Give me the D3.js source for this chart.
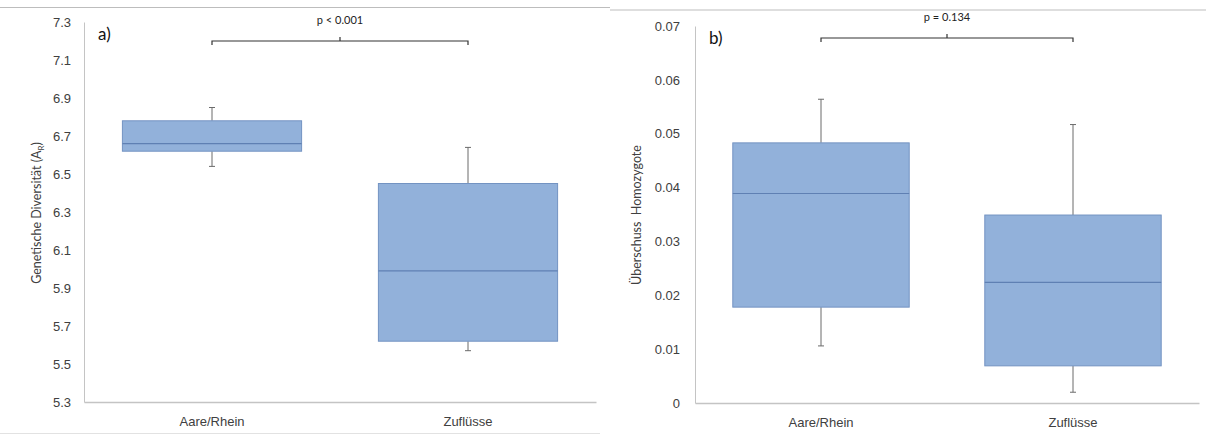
<!DOCTYPE html>
<html>
<head>
<meta charset="utf-8">
<script src="https://cdn.jsdelivr.net/npm/d3@7"></script>
<style>
  body { margin: 0; background: #fff; }
  svg { display: block; font-family: Lato, "Liberation Sans", sans-serif; }
</style>
</head>
<body>
<div id="chart"></div>
<script>
// categories
const groups = ["Aare/Rhein", "Zuflüsse"];

// panel a: Genetische Diversität (A_R)
const divMin    = [6.54, 5.57];
const divQ1     = [6.62, 5.62];
const divMedian = [6.66, 5.99];
const divQ3     = [6.78, 6.45];
const divMax    = [6.85, 6.64];
const divTicks  = [5.3, 5.5, 5.7, 5.9, 6.1, 6.3, 6.5, 6.7, 6.9, 7.1, 7.3];

// panel b: Überschuss Homozygote
const homMin    = [0.0106, 0.0020];
const homQ1     = [0.0178, 0.0069];
const homMedian = [0.0389, 0.0224];
const homQ3     = [0.0483, 0.0349];
const homMax    = [0.0564, 0.0517];
const homTicks  = [0, 0.01, 0.02, 0.03, 0.04, 0.05, 0.06, 0.07];

const width = 1206, height = 439;
const boxFill = "#92b1da", boxStroke = "#7393c2", medianColor = "#5f80b3";
const axisColor = "#c4c4c4", textColor = "#404040";

const svg = d3.select("#chart").append("svg")
    .attr("width", width)
    .attr("height", height);

// chart area frames
svg.append("line").attr("x1", 0).attr("x2", 610).attr("y1", 7.5).attr("y2", 7.5)
    .attr("stroke", "#bdbdbd");
svg.append("line").attr("x1", 610).attr("x2", width).attr("y1", 10).attr("y2", 10)
    .attr("stroke", "#bdbdbd");
svg.append("line").attr("x1", 0).attr("x2", 600).attr("y1", 433.5).attr("y2", 433.5)
    .attr("stroke", "#e2e2e2");

function panel(opt) {
    const x = d3.scaleBand().domain(groups)
        .range([opt.left, opt.right])
        .paddingInner(0.3).paddingOuter(0.15);
    const y = d3.scaleLinear().domain(opt.domain).range([opt.bottom, opt.top]);

    const g = svg.append("g");

    // y axis
    const yAxis = g.append("g")
        .attr("transform", `translate(${opt.left},0)`)
        .call(d3.axisLeft(y).tickValues(opt.ticks).tickSize(0).tickPadding(opt.tickPad).tickFormat(opt.fmt));
    yAxis.select(".domain").attr("stroke", axisColor);
    yAxis.selectAll("text").attr("fill", textColor).style("font-size", "13px");

    // x axis
    const xAxis = g.append("g")
        .attr("transform", `translate(0,${opt.bottom})`)
        .call(d3.axisBottom(x).tickSize(0).tickPadding(15));
    xAxis.select(".domain").attr("stroke", axisColor).attr("stroke-width", 1.5);
    xAxis.selectAll("text").attr("fill", textColor).style("font-size", "13px");

    const data = groups.map((k, i) => ({
        key: k, min: opt.min[i], q1: opt.q1[i], med: opt.med[i], q3: opt.q3[i], max: opt.max[i]
    }));

    const box = g.selectAll(".box").data(data).join("g").attr("class", "box");
    const cx = d => x(d.key) + x.bandwidth() / 2;

    // whiskers
    box.append("line")
        .attr("x1", cx).attr("x2", cx)
        .attr("y1", d => y(d.max)).attr("y2", d => y(d.q3))
        .attr("stroke", "#6b6b6b");
    box.append("line")
        .attr("x1", cx).attr("x2", cx)
        .attr("y1", d => y(d.q1)).attr("y2", d => y(d.min))
        .attr("stroke", "#6b6b6b");
    box.append("line")
        .attr("x1", d => cx(d) - 3).attr("x2", d => cx(d) + 3)
        .attr("y1", d => y(d.max)).attr("y2", d => y(d.max))
        .attr("stroke", "#6b6b6b");
    box.append("line")
        .attr("x1", d => cx(d) - 3).attr("x2", d => cx(d) + 3)
        .attr("y1", d => y(d.min)).attr("y2", d => y(d.min))
        .attr("stroke", "#6b6b6b");

    box.append("rect")
        .attr("x", d => x(d.key))
        .attr("width", x.bandwidth())
        .attr("y", d => y(d.q3))
        .attr("height", d => y(d.q1) - y(d.q3))
        .attr("fill", boxFill)
        .attr("stroke", boxStroke);

    box.append("line")
        .attr("x1", d => x(d.key)).attr("x2", d => x(d.key) + x.bandwidth())
        .attr("y1", d => y(d.med)).attr("y2", d => y(d.med))
        .attr("stroke", medianColor).attr("stroke-width", 1.2);

    // significance bracket
    const bx1 = cx(data[0]), bx2 = cx(data[1]), by = opt.bracketY;
    g.append("path")
        .attr("d", `M${bx1},${by + 4}V${by}H${bx2}V${by + 4}M${(bx1 + bx2) / 2},${by}V${by - 4}`)
        .attr("fill", "none").attr("stroke", "#333").attr("stroke-width", 1.2);
    g.append("text")
        .attr("x", (bx1 + bx2) / 2).attr("y", by - 17)
        .attr("text-anchor", "middle")
        .attr("fill", "#222").style("font-size", "11px")
        .text(opt.pText);

    // panel letter
    g.append("text")
        .attr("x", opt.left + 14).attr("y", opt.top + 18)
        .attr("fill", "#111").style("font-size", "17px")
        .text(opt.letter);

    // y label
    const lab = g.append("text")
        .attr("transform", `translate(${opt.labelX},${opt.labelY}) rotate(-90)`)
        .attr("text-anchor", "middle")
        .attr("fill", textColor).style("font-size", "12.5px");
    return lab;
}

const labA = panel({
    left: 84, right: 596, top: 22, bottom: 402,
    domain: [5.3, 7.3], ticks: divTicks, fmt: d3.format(".1f"), tickPad: 13,
    min: divMin, q1: divQ1, med: divMedian, q3: divQ3, max: divMax,
    bracketY: 41, pText: "p < 0.001", letter: "a)",
    labelX: 41, labelY: 213
});
labA.append("tspan").text("Genetische Diversität (A");
labA.append("tspan").attr("dy", 3).style("font-size", "8px").text("R");
labA.append("tspan").attr("dy", -3).text(")");

const labB = panel({
    left: 695, right: 1199, top: 26, bottom: 403,
    domain: [0, 0.07], ticks: homTicks, fmt: d => d === 0 ? "0" : d3.format(".2f")(d), tickPad: 15,
    min: homMin, q1: homQ1, med: homMedian, q3: homQ3, max: homMax,
    bracketY: 38, pText: "p = 0.134", letter: "b)",
    labelX: 641, labelY: 215
});
labB.attr("xml:space", "preserve").style("white-space", "pre").text("Überschuss  Homozygote");
</script>
</body>
</html>
